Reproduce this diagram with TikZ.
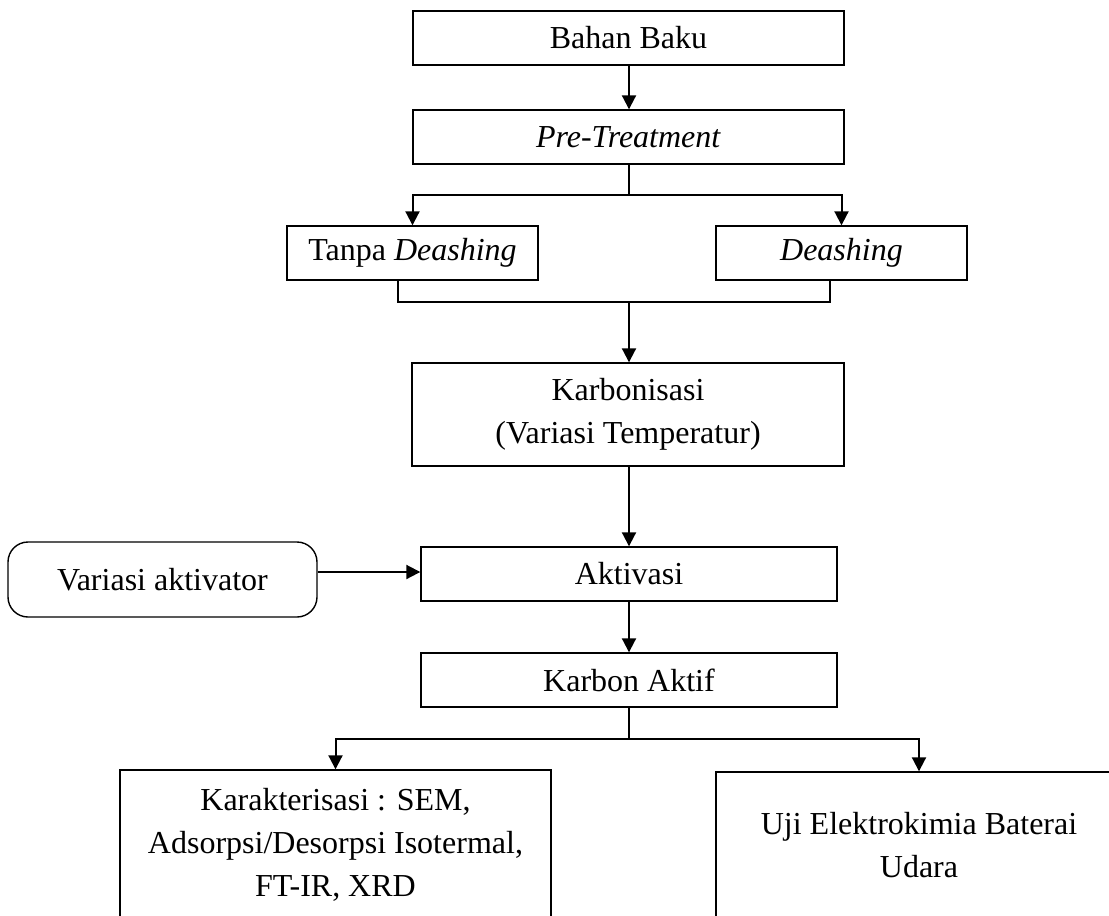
\documentclass[tikz,border=0pt]{standalone}
\usepackage{fontspec}
\setmainfont{Liberation Serif}
\usetikzlibrary{arrows.meta}
\begin{document}
\begin{tikzpicture}[x=0.5pt,y=-0.5pt,
  box/.style={draw,line width=0.7pt,inner sep=0pt,align=center,font=\fontsize{16}{21.5}\selectfont},
  conn/.style={line width=1pt},
  arr/.style={conn,-{Triangle[length=7pt,width=7pt]}}]
\useasboundingbox (0,0) rectangle (1109,916);
\clip (0,0) rectangle (1109,916);
\node[box,minimum width=215.5pt,minimum height=27pt] (bahan) at (628.5,38) {Bahan Baku};
\node[box,minimum width=215.5pt,minimum height=27pt] (pre) at (628.5,137) {\textit{Pre-Treatment}};
\node[box,minimum width=125.5pt,minimum height=27pt] (tanpa) at (412.5,253) {Tanpa \textit{Deashing}};
\node[box,minimum width=125.5pt,minimum height=27pt] (deash) at (841.5,253) {\textit{Deashing}};
\node[box,minimum width=216pt,minimum height=51.5pt] (karb) at (628,414.5) {Karbonisasi\\(Variasi Temperatur)};
\node[box,minimum width=208pt,minimum height=27pt] (akt) at (629,574) {Aktivasi};
\node[box,rounded corners=10pt,minimum width=154.5pt,minimum height=37.5pt] (var) at (162.5,579.5) {Variasi aktivator};
\node[box,minimum width=208pt,minimum height=27pt] (karbon) at (629,680) {Karbon Aktif};
\node[box,minimum width=215.5pt,minimum height=75pt] (kar) at (335.5,845) {Karakterisasi : SEM,\\Adsorpsi/Desorpsi Isotermal,\\FT-IR, XRD};
\node[box,minimum width=203pt,minimum height=73pt] (uji) at (919,845) {Uji Elektrokimia Baterai\\Udara};
\coordinate (b1) at (629,195);
\coordinate (b2) at (629,302);
\coordinate (b3) at (629,739);
\draw[arr] (bahan.south -| 629,0) -- (pre.north -| 629,0);
\draw[conn] (pre.south -| 629,0) -- (b1);
\draw[arr] (b1) -| (tanpa.north);
\draw[arr] (b1) -| (deash.north);
\draw[conn] (tanpa.south -| 398,0) |- (b2);
\draw[conn] (deash.south -| 830,0) |- (b2);
\draw[arr] (b2) -- (karb.north -| b2);
\draw[arr] (karb.south -| 629,0) -- (akt.north -| 629,0);
\draw[arr] (var.east |- 0,572) -- (akt.west |- 0,572);
\draw[arr] (akt.south) -- (karbon.north);
\draw[conn] (karbon.south) -- (b3);
\draw[arr] (b3) -| (kar.north);
\draw[arr] (b3) -| (uji.north);
\end{tikzpicture}
\end{document}
